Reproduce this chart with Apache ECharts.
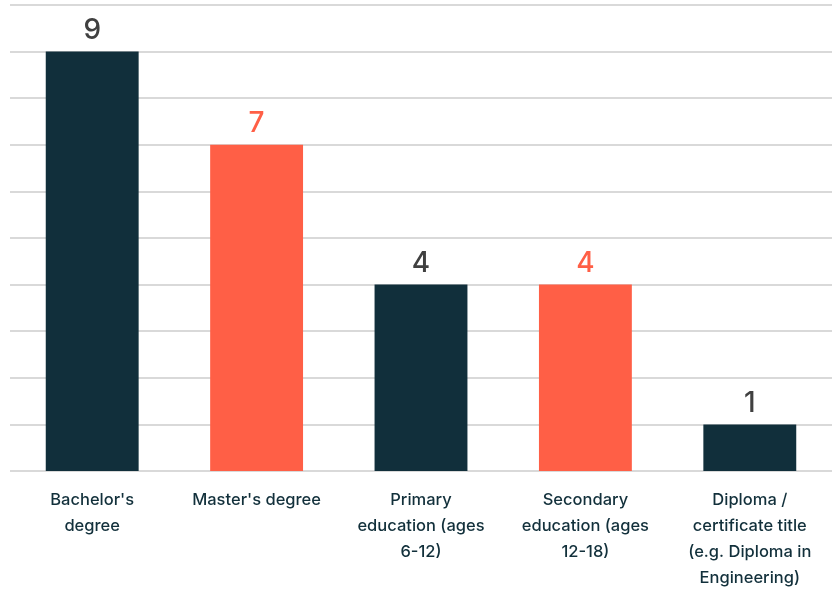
<!DOCTYPE html>
<html>
<head>
<meta charset="utf-8">
<script src="https://cdn.jsdelivr.net/npm/echarts@6/dist/echarts.min.js"></script>
<style>
  html, body { margin: 0; padding: 0; background: #fff; }
  #chart { width: 833px; height: 591px; }
</style>
</head>
<body>
<div id="chart"></div>
<script>
// categories (line breaks as in the picture)
const categories = [
  "Bachelor's\ndegree",
  "Master's degree",
  "Primary\neducation (ages\n6-12)",
  "Secondary\neducation (ages\n12-18)",
  "Diploma /\ncertificate title\n(e.g. Diploma in\nEngineering)"
]
const values = [9, 7, 4, 4, 1]
const barColors = ['#112f3b', '#ff5f46', '#112f3b', '#ff5f46', '#112f3b']
const labelColors = ['#404040', '#ff5f46', '#404040', '#ff5f46', '#404040']

const myChart = echarts.init(document.getElementById('chart'))

const option = {
  animation: false,
  grid: { left: 10, right: 1, top: 5, bottom: 120, containLabel: false },
  xAxis: {
    type: 'category',
    data: categories,
    axisLine: { show: false },
    axisTick: { show: false },
    axisLabel: {
      interval: 0,
      margin: 16,
      color: '#12303b',
      fontFamily: 'Inter',
      fontWeight: 500,
      fontSize: 16.5,
      lineHeight: 26
    }
  },
  yAxis: {
    type: 'value',
    min: 0,
    max: 10,
    interval: 1,
    axisLabel: { show: false },
    axisLine: { show: false },
    axisTick: { show: false },
    splitLine: { lineStyle: { color: '#d9d9d9', width: 2 } }
  },
  series: [{
    type: 'bar',
    barWidth: '56.5%',
    data: values.map((v, i) => ({
      value: v,
      itemStyle: { color: barColors[i] },
      label: { color: labelColors[i] }
    })),
    label: {
      show: true,
      position: 'top',
      distance: 7,
      fontFamily: 'Inter',
      fontWeight: 500,
      fontSize: 28
    }
  }]
}
myChart.setOption(option)
</script>
</body>
</html>
